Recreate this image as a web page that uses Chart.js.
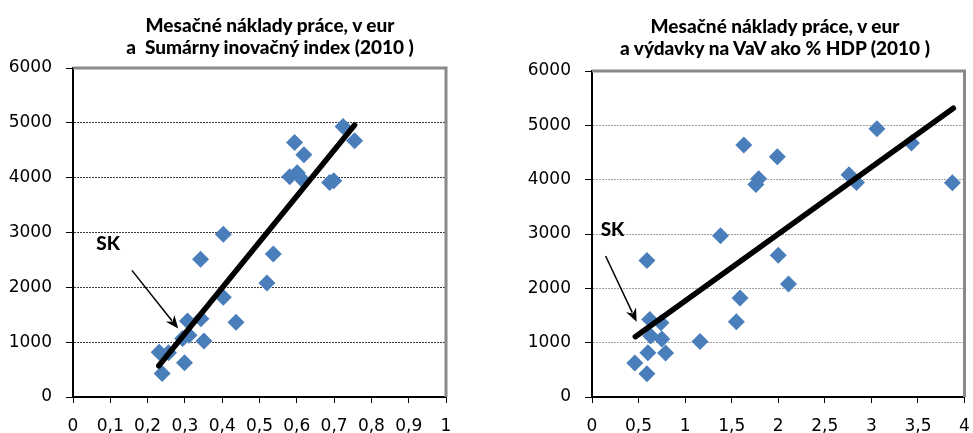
<!DOCTYPE html>
<html>
<head>
<meta charset="utf-8">
<script src="https://cdn.jsdelivr.net/npm/chart.js@4.4.1/dist/chart.umd.min.js"></script>
<style>
  body { margin: 0; background: #fff; }
  #wrap { position: relative; width: 973px; height: 433px; overflow: hidden; }
  .box { position: absolute; top: 0; height: 433px; }
  .ttl { position: absolute; width: 440px; font-family: Lato, sans-serif; font-weight: 900;
         font-size: 19px; line-height: 22px; text-align: center; white-space: pre; color: #000; }
</style>
</head>
<body>
<div id="wrap">
  <div class="box" style="left:0;width:487px"><canvas id="innovChart"></canvas></div>
  <div class="box" style="left:487px;width:486px"><canvas id="rdChart"></canvas></div>
  <div class="ttl" style="left:50px;top:14px">Mesačné náklady práce, v eur
a  Sumárny inovačný index (2010 )</div>
  <div class="ttl" style="left:555px;top:15px">Mesačné náklady práce, v eur
a výdavky na VaV ako % HDP (2010 )</div>
</div>
<script>
// mesačné náklady práce (eur) - rovnaké krajiny v oboch grafoch
var laborCost = [4935, 4675, 4640, 4420, 4090, 4015, 3950, 3945, 3910, 2970, 2610, 2510,
                 2080, 1820, 1425, 1385, 1365, 1125, 1068, 1020, 815, 808, 625, 427];
// sumárny inovačný index
var innovIndex = [0.724, 0.755, 0.594, 0.619, 0.601, 0.581, 0.617, 0.699, 0.688, 0.403, 0.537, 0.342,
                  0.520, 0.403, 0.343, 0.307, 0.437, 0.311, 0.294, 0.351, 0.231, 0.256, 0.299, 0.239];
// výdavky na VaV ako % HDP
var rdShare = [3.06, 3.43, 1.63, 1.99, 2.76, 1.79, 2.84, 3.87, 1.76, 1.38, 2.00, 0.59,
               2.11, 1.59, 0.62, 1.55, 0.74, 0.63, 0.75, 1.16, 0.60, 0.79, 0.46, 0.59];

// trend (koncové body čiary)
var innovTrendX = [0.23, 0.755];
var innovTrendY = [570, 4960];
var rdTrendX = [0.465, 3.88];
var rdTrendY = [1110, 5314];

// poloha popisu SK: [text x, text y], šípka [x1, y1, x2, y2]
var innovSkText = [0.094, 2800];
var innovSkArrow = [0.158, 2309, 0.282, 1249];
var rdSkText = [0.22, 3074];
var rdSkArrow = [0.146, 2595, 0.479, 1386];

var tickFont = { family: 'DejaVu Sans', size: 17 };

// horný a pravý okraj
var framePlugin = {
  id: 'frame',
  beforeDatasetsDraw: function (chart) {
    var a = chart.chartArea, ctx = chart.ctx;
    ctx.save();
    ctx.strokeStyle = '#8a8a8a';
    ctx.lineWidth = 3;
    ctx.beginPath();
    ctx.moveTo(a.left, a.top);
    ctx.lineTo(a.right, a.top);
    ctx.lineTo(a.right, a.bottom);
    ctx.stroke();
    ctx.restore();
  }
};

// popis SK so šípkou
var skPlugin = {
  id: 'skNote',
  afterDatasetsDraw: function (chart, args, o) {
    var ctx = chart.ctx, sx = chart.scales.x, sy = chart.scales.y;
    var tx = sx.getPixelForValue(o.text[0]), ty = sy.getPixelForValue(o.text[1]);
    var x1 = sx.getPixelForValue(o.arrow[0]), y1 = sy.getPixelForValue(o.arrow[1]);
    var x2 = sx.getPixelForValue(o.arrow[2]), y2 = sy.getPixelForValue(o.arrow[3]);
    ctx.save();
    ctx.fillStyle = '#000';
    ctx.font = '900 19px Lato';
    ctx.textAlign = 'center';
    ctx.textBaseline = 'middle';
    ctx.fillText('SK', tx, ty);
    var ang = Math.atan2(y2 - y1, x2 - x1);
    var hl = 13, hw = 5.5;
    var bx = x2 - Math.cos(ang) * hl, by = y2 - Math.sin(ang) * hl;
    ctx.strokeStyle = '#000';
    ctx.lineWidth = 1.5;
    ctx.beginPath();
    ctx.moveTo(x1, y1);
    ctx.lineTo(bx + Math.cos(ang) * 3, by + Math.sin(ang) * 3);
    ctx.stroke();
    ctx.beginPath();
    ctx.moveTo(x2, y2);
    ctx.lineTo(bx - Math.sin(ang) * hw, by + Math.cos(ang) * hw);
    ctx.lineTo(bx + Math.cos(ang) * 4, by + Math.sin(ang) * 4);
    ctx.lineTo(bx + Math.sin(ang) * hw, by - Math.cos(ang) * hw);
    ctx.closePath();
    ctx.fill();
    ctx.restore();
  }
};

function fmt(v) {
  return String(Math.round(v * 10) / 10).replace('.', ',');
}

function make_chart(id, xs, trendX, trendY, cfg) {
  var ctx = document.getElementById(id).getContext('2d');
  var points = xs.map(function (x, i) { return { x: x, y: laborCost[i] }; });
  var trend = trendX.map(function (x, i) { return { x: x, y: trendY[i] }; });
  return new Chart(ctx, {
    type: 'scatter',
    data: {
      datasets: [{
        data: trend,
        type: 'line',
        borderColor: '#000',
        borderWidth: 5.5,
        borderCapStyle: 'round',
        pointRadius: 0,
        fill: false,
        order: 1
      }, {
        data: points,
        pointStyle: 'rectRot',
        pointRadius: 8.5,
        backgroundColor: '#4A7EBB',
        borderColor: '#4A7EBB',
        borderWidth: 0,
        order: 2
      }]
    },
    options: {
      responsive: true,
      maintainAspectRatio: false,
      animation: false,
      layout: { padding: cfg.padding },
      plugins: {
        legend: { display: false },
        tooltip: { enabled: false },
        skNote: { text: cfg.skText, arrow: cfg.skArrow }
      },
      scales: {
        x: {
          type: 'linear',
          min: 0,
          max: cfg.xMax,
          afterFit: function (s) { s.height = 36; s.paddingLeft = 0; s.paddingRight = 0; },
          ticks: {
            stepSize: cfg.xStep,
            autoSkip: false,
            maxRotation: 0,
            padding: 13,
            color: '#000',
            font: tickFont,
            callback: fmt
          },
          grid: { drawOnChartArea: false, tickLength: 6, tickColor: '#000', tickWidth: 1 },
          border: { color: '#000', width: 2 }
        },
        y: {
          min: 0,
          max: 6000,
          afterFit: function (s) { s.width = cfg.yWidth; },
          ticks: {
            stepSize: 1000, padding: 14, color: '#000', font: tickFont,
            callback: function (v) { return String(v); }
          },
          grid: {
            color: function (c) { return c.tick && c.tick.value === 6000 ? 'rgba(0,0,0,0)' : cfg.gridColor; },
            lineWidth: 1,
            tickLength: 7,
            tickColor: '#000',
            tickWidth: 1
          },
          border: { color: '#000', width: 2, dash: [2, 1] }
        }
      }
    },
    plugins: [framePlugin, skPlugin]
  });
}

make_chart('innovChart', innovIndex, innovTrendX, innovTrendY, {
  xMax: 1, xStep: 0.1, yWidth: 73, gridColor: '#3a3a3a',
  padding: { top: 68, right: 41, left: 0, bottom: 0 },
  skText: innovSkText, skArrow: innovSkArrow
});
make_chart('rdChart', rdShare, rdTrendX, rdTrendY, {
  xMax: 4, xStep: 0.5, yWidth: 105, gridColor: '#a0a0a0',
  padding: { top: 71, right: 5, left: 0, bottom: 0 },
  skText: rdSkText, skArrow: rdSkArrow
});
</script>
</body>
</html>
